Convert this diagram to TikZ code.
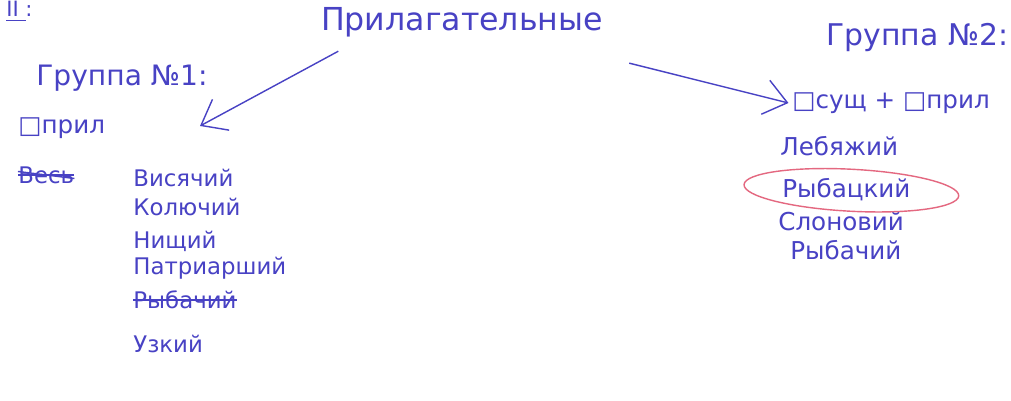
\documentclass[tikz,border=0pt]{standalone}
\usepackage{fontspec}
\setmainfont{DejaVu Sans}
\usepackage{xcolor}
\usetikzlibrary{arrows.meta}

\definecolor{ink}{RGB}{72,66,196}
\definecolor{redink}{RGB}{228,104,128}

\begin{document}
\begin{tikzpicture}[
  x=0.02cm, y=-0.02cm,
  title/.style={text=ink, inner sep=0pt, font=\fontsize{18}{20}\selectfont},
  head/.style={text=ink, inner sep=0pt, font=\fontsize{16}{18}\selectfont},
  word/.style={text=ink, inner sep=0pt, anchor=west, font=\fontsize{13}{15}\selectfont},
  rword/.style={text=ink, inner sep=0pt, anchor=west, font=\fontsize{14}{16}\selectfont},
  arr/.style={-{Straight Barb[length=4.5mm, width=7mm]}, ink, thick},
  strike/.style={ink, thick}
]
\useasboundingbox[fill=white] (0,0) rectangle (1011,401);

% ── Part label ──
\node[text=ink, inner sep=0pt, anchor=north west, font=\fontsize{12}{13}\selectfont] (part) at (6,1) {II :};
\draw[ink, thick] ([yshift=-2pt]part.south west) -- ++(0.4cm,0);

% ── Title ──
\node[title] (adj) at (462,22) {Прилагательные};

% ── Group 1 ──
\node[head, anchor=west] (grp1) at (36,78) {Группа №1:};
\node[word, font=\fontsize{14}{16}\selectfont] (adjbox) at (18,128) {□прил};
\node[word] (all) at (18,175) {Весь};
\draw[strike] (all.west) -- (all.east);
\draw[strike] ([yshift=2pt]all.west) -- ([yshift=-2pt]all.east);

\node[word] (w1) at (133,178) {Висячий};
\node[word] (w2) at (133,207) {Колючий};
\node[word] (w3) at (133,241) {Нищий};
\node[word] (w4) at (133,268) {Патриарший};
\node[word] (w5) at (133,300) {Рыбачий};
\node[word] (w6) at (133,344) {Узкий};
\draw[strike] (w5.west) -- (w5.east);

% ── Group 2 ──
\node[head, anchor=west, font=\fontsize{17}{19}\selectfont] (grp2) at (826,38) {Группа №2:};
\node[rword] (nounadj) at (792,103) {□сущ + □прил};
\node[rword] (r1) at (780,146) {Лебяжий};
\node[rword] (r2) at (782,190) {Рыбацкий};
\node[rword] (r3) at (778,221) {Слоновий};
\node[rword] (r4) at (790,250) {Рыбачий};
\draw[redink, thick, rotate around={-3:(r2.center)}] ([xshift=0.1cm]r2.center) ellipse (2.15cm and 0.42cm);

% ── Arrows from the title ──
\coordinate (lefttip) at (200,126);
\draw[arr] ([xshift=10pt, yshift=-8pt]adj.south west) -- (lefttip);
\draw[arr] ([xshift=0.52cm, yshift=-0.52cm]adj.south east) -- ([xshift=-2pt]nounadj.west);

\end{tikzpicture}
\end{document}
